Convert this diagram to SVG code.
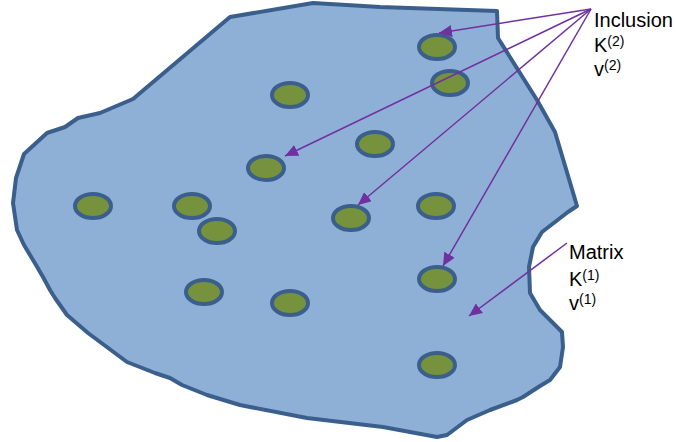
<svg xmlns="http://www.w3.org/2000/svg" width="676" height="442" viewBox="0 0 676 442">
  <style>
    .matrix { fill: #8fb0d6; stroke: #3b5f8c; stroke-width: 4; stroke-linejoin: round; }
    .incl { fill: #77923c; stroke: #3b5f8c; stroke-width: 4; }
    .lead { stroke: #7030a0; stroke-width: 1.5; fill: none; marker-end: url(#tip); }
    .lbl { font-family: "Liberation Sans", Arial, sans-serif; font-size: 20px; fill: #000; }
    .sup { font-size: 14px; }
  </style>
  <defs>
    <marker id="tip" markerUnits="userSpaceOnUse" markerWidth="14" markerHeight="12" refX="13" refY="6" orient="auto">
      <path d="M0,0 L13,6 L0,12 Z" fill="#7030a0"/>
    </marker>
  </defs>

  <!-- matrix body -->
  <g id="matrix">
    <path class="matrix" d="M230,17 L313,3 L380,7 L497,11 L498,38 L537,100 L555,132 L577,206 L568,212 L555,222 L542,232 L533,247 L529,267 L530,293 L540,310 L553,323 L562,332 L563,347 L560,367 L550,380 L540,386 L523,397 L517,400 L490,410 L467,420 L447,435 L437,437 L383,427 L307,418 L250,407 L240,405 L207,395 L182,385 L170,378 L155,373 L127,362 L88,333 L67,315 L55,298 L50,290 L43,277 L36,265 L33,260 L24,245 L17,230 L13,203 L16,178 L24,154 L47,133 L65,127 L78,118 L100,113 L133,99 Z"/>
  </g>

  <!-- inclusions -->
  <g id="inclusions">
    <ellipse id="inc1" class="incl" cx="437" cy="47" rx="18" ry="12"/>
    <ellipse id="inc2" class="incl" cx="450" cy="83" rx="18" ry="12"/>
    <ellipse id="inc3" class="incl" cx="290" cy="95" rx="18" ry="12"/>
    <ellipse id="inc4" class="incl" cx="375" cy="144" rx="18" ry="12"/>
    <ellipse id="inc5" class="incl" cx="266" cy="168" rx="18" ry="12"/>
    <ellipse id="inc6" class="incl" cx="93" cy="206" rx="18" ry="12"/>
    <ellipse id="inc7" class="incl" cx="192" cy="206" rx="18" ry="12"/>
    <ellipse id="inc8" class="incl" cx="217" cy="231" rx="18" ry="12"/>
    <ellipse id="inc9" class="incl" cx="351" cy="218" rx="18" ry="12"/>
    <ellipse id="inc10" class="incl" cx="436" cy="206" rx="18" ry="12"/>
    <ellipse id="inc11" class="incl" cx="437" cy="279" rx="18" ry="12"/>
    <ellipse id="inc12" class="incl" cx="204" cy="292" rx="18" ry="12"/>
    <ellipse id="inc13" class="incl" cx="290" cy="303" rx="18" ry="12"/>
    <ellipse id="inc14" class="incl" cx="437" cy="365" rx="18" ry="12"/>
  </g>

  <!-- leader arrows -->
  <g id="connectors">
    <line class="lead" x1="591" y1="9" x2="439" y2="33"/>
    <line class="lead" x1="591" y1="9" x2="285" y2="156"/>
    <line class="lead" x1="591" y1="9" x2="358" y2="205"/>
    <line class="lead" x1="591" y1="9" x2="443" y2="266"/>
    <line class="lead" x1="567" y1="243" x2="469" y2="316"/>
  </g>

  <!-- labels -->
  <g id="label-inclusion">
    <text class="lbl" x="594" y="27">Inclusion</text>
    <text class="lbl" x="594" y="52">K<tspan class="sup" dy="-6">(2)</tspan></text>
    <text class="lbl" x="594" y="76">v<tspan class="sup" dy="-6">(2)</tspan></text>
  </g>
  <g id="label-matrix">
    <text class="lbl" x="569" y="259">Matrix</text>
    <text class="lbl" x="569" y="286">K<tspan class="sup" dy="-6">(1)</tspan></text>
    <text class="lbl" x="569" y="310">v<tspan class="sup" dy="-6">(1)</tspan></text>
  </g>
</svg>
